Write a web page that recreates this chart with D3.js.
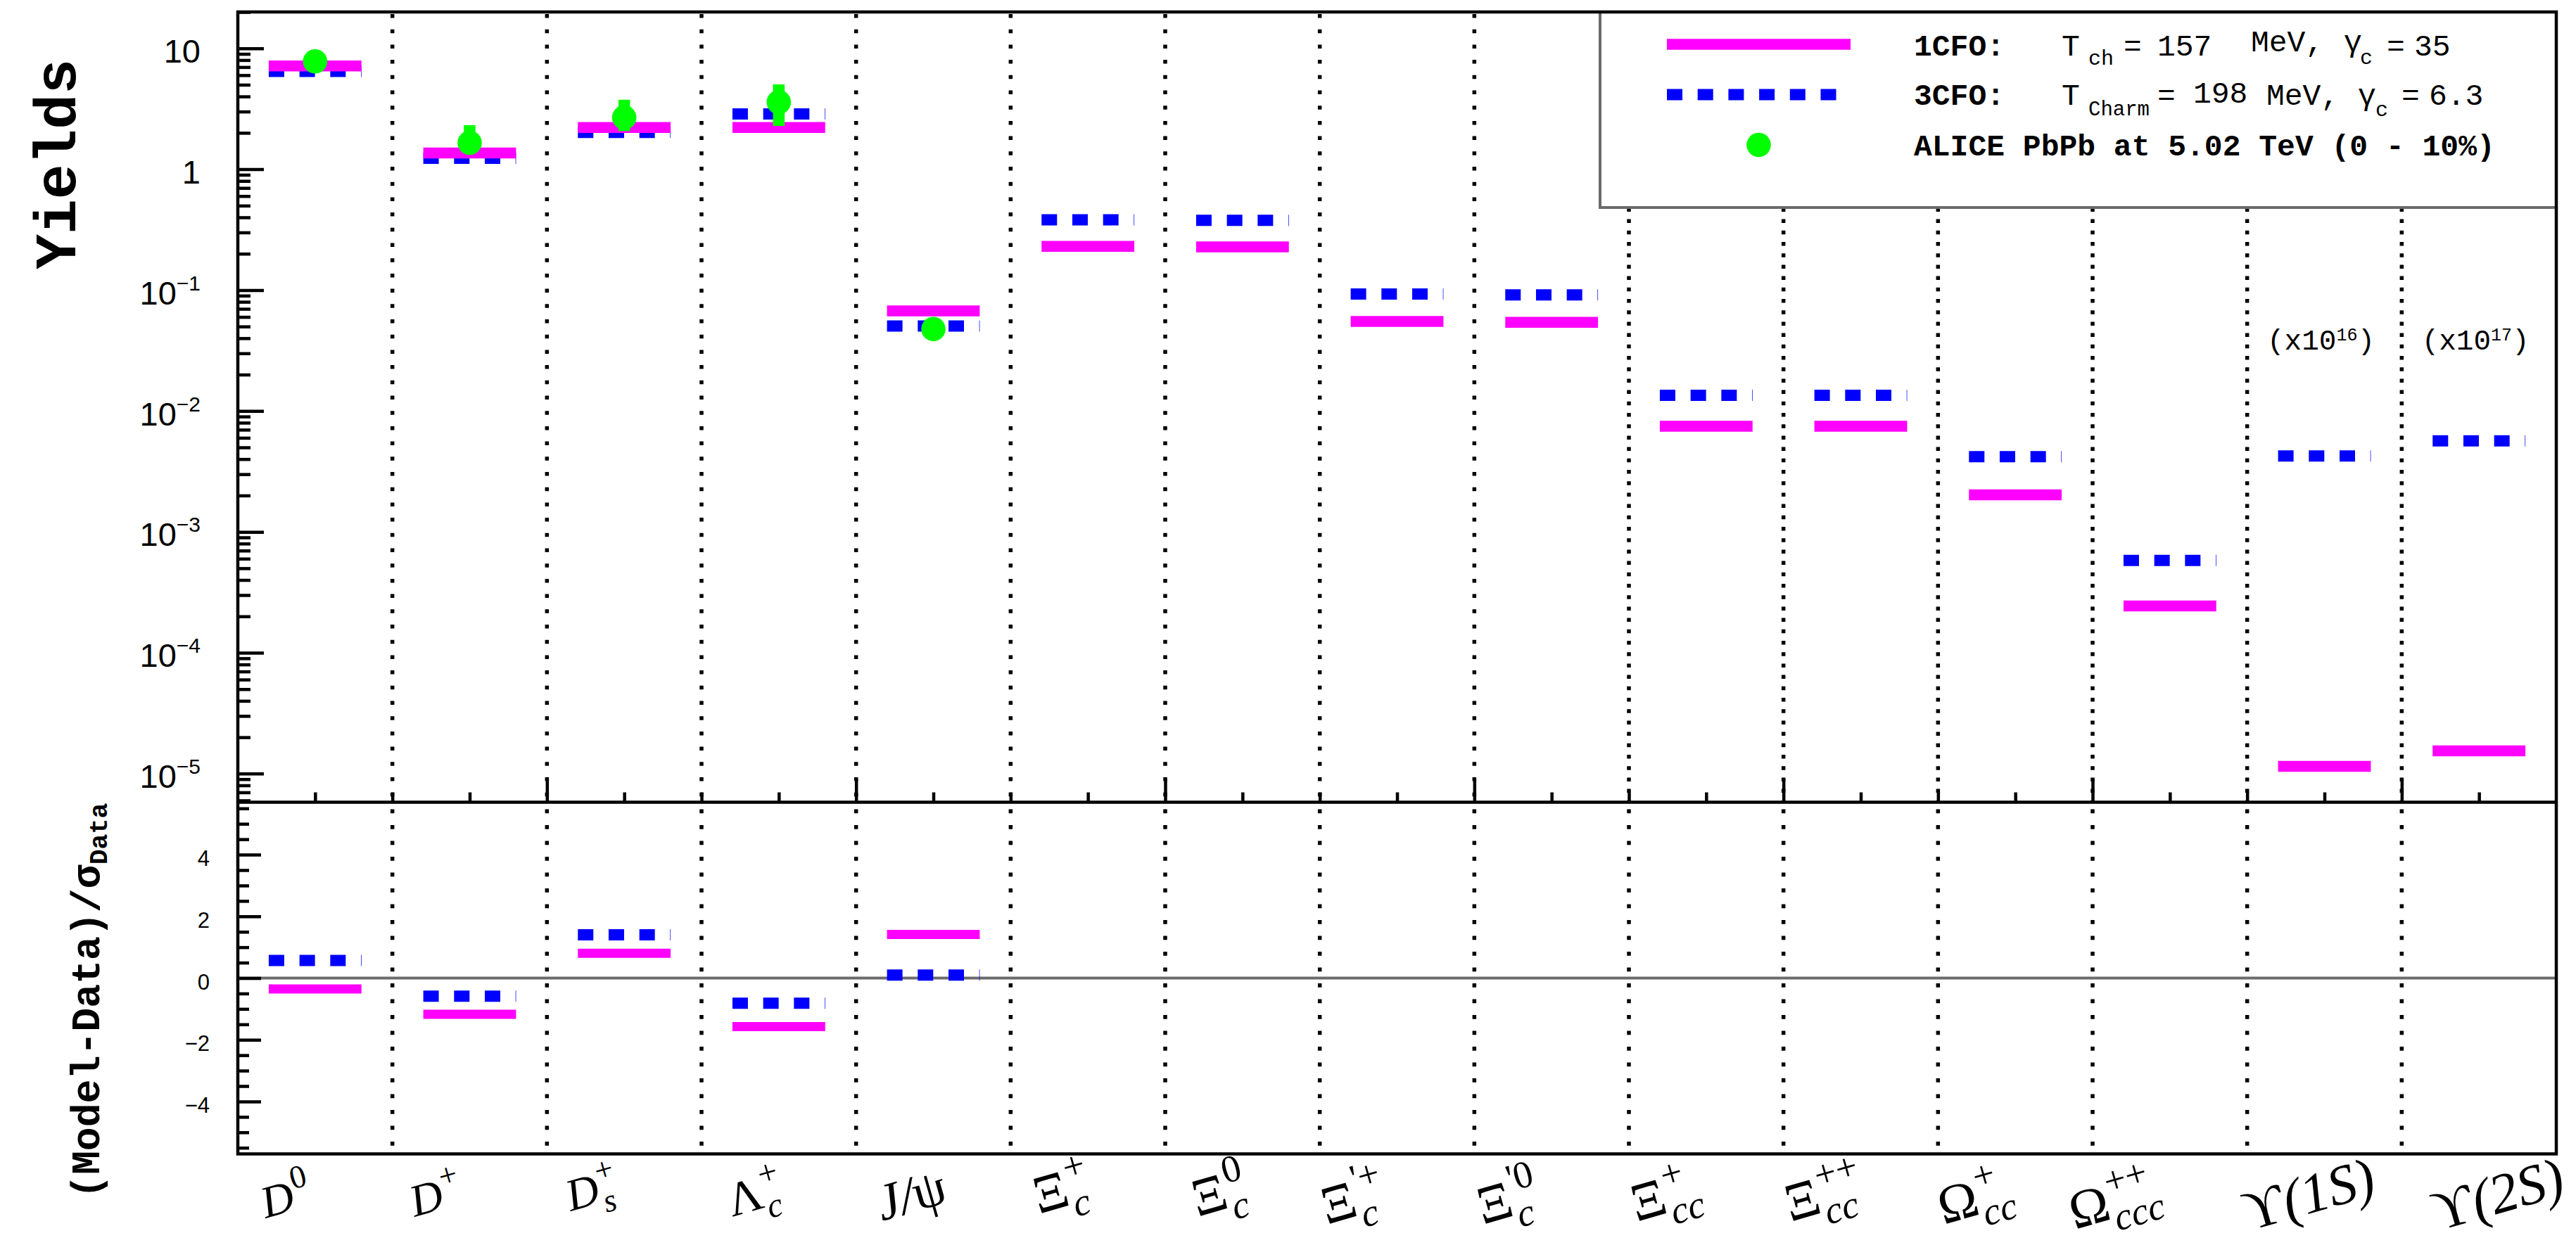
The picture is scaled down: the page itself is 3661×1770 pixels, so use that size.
<!DOCTYPE html>
<html>
<head>
<meta charset="utf-8">
<script src="https://cdn.jsdelivr.net/npm/d3@7"></script>
<style>
  html, body { margin: 0; padding: 0; background: #fff; }
  svg { display: block; }
</style>
</head>
<body>
<script>
// ---- data -----------------------------------------------------------
const particles = ["D0", "D+", "Ds+", "Λc+", "J/ψ", "Ξc+", "Ξc0", "Ξ'c+", "Ξ'c0",
                   "Ξcc+", "Ξcc++", "Ωcc+", "Ωccc++", "ϒ(1S)", "ϒ(2S)"];
const labelBase = ["D", "D", "D", "Λ", "J /ψ", "Ξ", "Ξ", "Ξ", "Ξ", "Ξ", "Ξ", "Ω", "Ω", "ϒ(1S)", "ϒ(2S)"];
const labelSub  = ["", "", "s", "c", "", "c", "c", "c", "c", "cc", "cc", "cc", "ccc", "", ""];
const labelSup  = ["0", "+", "+", "+", "", "+", "0", "'+", "'0", "+", "++", "+", "++", "", ""];

// 1CFO: T_ch = 157 MeV, gamma_c = 35
const yield1CFO = [7.16, 1.363, 2.211, 2.211, 0.0673, 0.2297, 0.2278, 0.0550, 0.0541,
                   0.00748, 0.00748, 0.002024, 0.000244, 1.15e-5, 1.545e-5];
// 3CFO: T_charm = 198 MeV, gamma_c = 6.3
const yield3CFO = [6.45, 1.232, 2.018, 2.867, 0.0504, 0.3817, 0.3781, 0.0927, 0.0913,
                   0.0135, 0.0135, 0.004191, 0.000581, 0.004242, 0.005657];

// ALICE Pb-Pb 5.02 TeV (0-10%)
const aliceIndex   = [0, 1, 2, 3, 4];
const aliceYield   = [7.8, 1.655, 2.677, 3.591, 0.0476];
const aliceErrLow  = [1.2, 0.3, 0.61, 1.31, 0.004];
const aliceErrHigh = [1.2, 0.66, 1.08, 1.44, 0.004];

// (Model - Data) / sigma_Data
const dev1CFO = [-0.356, -1.174, 0.803, -1.571, 1.411];
const dev3CFO = [0.57, -0.586, 1.402, -0.814, 0.096];

const yieldMajorTicks = [10, 1, 0.1, 0.01, 0.001, 1e-4, 1e-5];
const yieldTickLabels = [["10", ""], ["1", ""], ["10", "−1"], ["10", "−2"], ["10", "−3"], ["10", "−4"], ["10", "−5"]];
const devMajorTicks = [-4, -2, 0, 2, 4];
const devTickLabels = ["−4", "−2", "0", "2", "4"];

const scaleNoteIndex = [13, 14];
const scaleNoteExp = ["16", "17"];

// ---- layout ---------------------------------------------------------
const W = 3661, H = 1770;
const X0 = 338, X1 = 3633;
const TOP0 = 17, TOP1 = 1140.5, BOT1 = 1640.5;
const MAGENTA = "#ff00ff", BLUE = "#0000ff", GREEN = "#00ff00", GREY = "#6b6b6b";
const MONO = "'Liberation Mono', 'DejaVu Sans Mono', monospace";
const SANS = "'Liberation Sans', Arial, sans-serif";
const SERIF = "'Liberation Serif', 'DejaVu Serif', serif";

// category label placement (offset from bin centre, baseline y, font size)
const labelDx = [-70, -78, -76, -66, -73, -70, -64, -100, -98, -99, -100, -102, -135, -107, -58];
const labelY  = [1732, 1730, 1722, 1730, 1736, 1726, 1730, 1741, 1741, 1737, 1737, 1741, 1748, 1750, 1750];
const labelSize = [64, 64, 64, 68, 74, 76, 76, 76, 76, 76, 76, 76, 76, 80, 80];
const LABEL_ANGLE = 16;      // degrees; labels rise to the right
const SCRIPT_SCALE = 0.72;   // sub/superscript size relative to the label

const svg = d3.select("body").append("svg")
  .attr("width", W).attr("height", H)
  .attr("viewBox", `0 0 ${W} ${H}`);
svg.append("rect").attr("width", W).attr("height", H).attr("fill", "#fff");

const x = d3.scaleLinear().domain([0, particles.length]).range([X0, X1]);
const yTop = d3.scaleLog().domain([5.8e-6, 20]).range([TOP1, TOP0]);
const yBot = d3.scaleLinear().domain([-5.7, 5.7]).range([BOT1, TOP1]);

// ---- bin separators ---------------------------------------------------
const seps = d3.range(1, particles.length);
svg.append("g").selectAll("line").data(seps).join("line")
  .attr("x1", d => x(d)).attr("x2", d => x(d))
  .attr("y1", TOP0 + 3).attr("y2", TOP1)
  .attr("stroke", "#000").attr("stroke-width", 5.5)
  .attr("stroke-dasharray", d => d <= 8 ? "5.5 16.2" : "5.5 10.7");
svg.append("g").selectAll("line").data(seps).join("line")
  .attr("x1", d => x(d)).attr("x2", d => x(d))
  .attr("y1", TOP1 + 10).attr("y2", BOT1)
  .attr("stroke", "#000").attr("stroke-width", 5.5)
  .attr("stroke-dasharray", "5.7 16.8");

// zero reference in the deviation panel
svg.append("line")
  .attr("x1", X0).attr("x2", X1).attr("y1", yBot(0)).attr("y2", yBot(0))
  .attr("stroke", GREY).attr("stroke-width", 4);

// ---- model yields -----------------------------------------------------
const barL = i => x(i + 0.2), barR = i => x(i + 0.8);
svg.append("g").selectAll("line").data(yield3CFO).join("line")
  .attr("x1", (d, i) => barL(i)).attr("x2", (d, i) => barR(i))
  .attr("y1", d => yTop(d)).attr("y2", d => yTop(d))
  .attr("stroke", BLUE).attr("stroke-width", 16).attr("stroke-dasharray", "22 21.7");
svg.append("g").selectAll("line").data(yield1CFO).join("line")
  .attr("x1", (d, i) => barL(i)).attr("x2", (d, i) => barR(i))
  .attr("y1", d => yTop(d)).attr("y2", d => yTop(d))
  .attr("stroke", MAGENTA).attr("stroke-width", 15.5);

// ALICE points with error bars
const alice = aliceIndex.map((k, j) => ({ k, v: aliceYield[j], lo: aliceErrLow[j], hi: aliceErrHigh[j] }));
svg.append("g").selectAll("line").data(alice).join("line")
  .attr("x1", d => x(d.k + 0.5)).attr("x2", d => x(d.k + 0.5))
  .attr("y1", d => yTop(d.v - d.lo)).attr("y2", d => yTop(d.v + d.hi))
  .attr("stroke", GREEN).attr("stroke-width", 16.5);
svg.append("g").selectAll("circle").data(alice).join("circle")
  .attr("cx", d => x(d.k + 0.5)).attr("cy", d => yTop(d.v)).attr("r", 17.3)
  .attr("fill", GREEN);

// ---- deviations -------------------------------------------------------
svg.append("g").selectAll("line").data(dev3CFO).join("line")
  .attr("x1", (d, i) => barL(i)).attr("x2", (d, i) => barR(i))
  .attr("y1", d => yBot(d)).attr("y2", d => yBot(d))
  .attr("stroke", BLUE).attr("stroke-width", 16).attr("stroke-dasharray", "22 21.7");
svg.append("g").selectAll("line").data(dev1CFO).join("line")
  .attr("x1", (d, i) => barL(i)).attr("x2", (d, i) => barR(i))
  .attr("y1", d => yBot(d)).attr("y2", d => yBot(d))
  .attr("stroke", MAGENTA).attr("stroke-width", 13);

// scale-factor notes above the bottomonium bins
scaleNoteIndex.forEach((k, j) => {
  const t = svg.append("text")
    .attr("x", x(k + 0.5) - 5).attr("y", 497)
    .attr("text-anchor", "middle")
    .attr("font-family", MONO).attr("font-size", 41).attr("fill", "#000");
  t.append("tspan").text("(x10");
  t.append("tspan").attr("font-size", 25).attr("dy", -13).text(scaleNoteExp[j]);
  t.append("tspan").attr("dy", 13).text(")");
});

// ---- legend -----------------------------------------------------------
const LX = 2274, LB = 295;
svg.append("rect").attr("x", LX).attr("y", TOP0).attr("width", X1 - LX).attr("height", LB - TOP0).attr("fill", "#fff");
svg.append("path").attr("d", `M${LX},${TOP0} V${LB} H${X1}`)
  .attr("fill", "none").attr("stroke", GREY).attr("stroke-width", 4);
svg.append("line").attr("x1", 2369).attr("x2", 2630).attr("y1", 63).attr("y2", 63)
  .attr("stroke", MAGENTA).attr("stroke-width", 15.5);
svg.append("line").attr("x1", 2369).attr("x2", 2630).attr("y1", 134.5).attr("y2", 134.5)
  .attr("stroke", BLUE).attr("stroke-width", 16).attr("stroke-dasharray", "22 21.7");
svg.append("circle").attr("cx", 2499.5).attr("cy", 206).attr("r", 17.3).attr("fill", GREEN);

function legendText(xp, yp, str, size, bold) {
  svg.append("text").attr("x", xp).attr("y", yp)
    .attr("font-family", MONO).attr("font-size", size)
    .attr("font-weight", bold ? "bold" : "normal").attr("fill", "#000").text(str);
}
legendText(2720, 79, "1CFO:", 43, true);
legendText(2930, 79, "T", 43);
legendText(2968, 92, "ch", 30);
legendText(3018, 79, "=", 43);
legendText(3066, 79, "157", 43);
legendText(3199, 73, "MeV,", 43);
legendText(3331, 73, "γ", 43);
legendText(3354, 91, "c", 30);
legendText(3392, 79, "=", 43);
legendText(3431, 79, "35", 43);

legendText(2720, 148.5, "3CFO:", 43, true);
legendText(2930, 148.5, "T", 43);
legendText(2968, 163.5, "Charm", 29);
legendText(3066, 148.5, "=", 43);
legendText(3117, 145.5, "198", 43);
legendText(3221, 148.5, "MeV,", 43);
legendText(3351, 148.5, "γ", 43);
legendText(3376, 165, "c", 30);
legendText(3413, 148.5, "=", 43);
legendText(3452, 148.5, "6.3", 43);

legendText(2720, 221, "ALICE PbPb at 5.02 TeV (0 - 10%)", 43, true);

// ---- axes -------------------------------------------------------------
function styleAxis(g) {
  g.select(".domain").remove();
  g.selectAll(".tick line").attr("stroke", "#000").attr("stroke-width", 4.5);
}
// log y axis, top panel
const topMinor = [];
for (let e = -6; e <= 1; e++) for (let m = 2; m <= 9; m++) {
  const v = m * Math.pow(10, e);
  if (v >= 5.8e-6 && v <= 20) topMinor.push(v);
}
svg.append("g").attr("transform", `translate(${X0},0)`)
  .call(d3.axisLeft(yTop).tickValues(topMinor).tickSize(-18).tickFormat(""))
  .call(styleAxis);
const topAxis = svg.append("g").attr("transform", `translate(${X0},0)`)
  .call(d3.axisLeft(yTop).tickValues(yieldMajorTicks).tickSize(-37).tickPadding(53).tickFormat(() => ""))
  .call(styleAxis);
topAxis.selectAll(".tick text").each(function (d, i) {
  const t = d3.select(this).attr("font-family", SANS).attr("font-size", 47)
    .attr("fill", "#000").attr("dy", "0.42em");
  t.text(null);
  t.append("tspan").text(yieldTickLabels[i][0]);
  if (yieldTickLabels[i][1]) t.append("tspan").attr("font-size", 30).attr("dy", -20).text(yieldTickLabels[i][1]);
});

// linear y axis, bottom panel
svg.append("g").attr("transform", `translate(${X0},0)`)
  .call(d3.axisLeft(yBot).tickValues(d3.range(-5.5, 5.51, 0.5).filter(v => v % 2 !== 0)).tickSize(-16).tickFormat(""))
  .call(styleAxis);
svg.append("g").attr("transform", `translate(${X0},0)`)
  .call(d3.axisLeft(yBot).tickValues(devMajorTicks).tickSize(-33).tickPadding(40)
    .tickFormat((d, i) => devTickLabels[i]))
  .call(styleAxis)
  .call(g => g.selectAll(".tick text").attr("font-family", SANS).attr("font-size", 31)
    .attr("fill", "#000").attr("dy", "0.5em"));

// x ticks along the bottom of the yield panel
svg.append("g").attr("transform", `translate(0,${TOP1})`)
  .call(d3.axisBottom(x).tickValues(d3.range(0.5, 15, 1).concat(d3.range(1, 15, 2))).tickSize(-14).tickFormat(""))
  .call(styleAxis);
svg.append("g").attr("transform", `translate(0,${TOP1})`)
  .call(d3.axisBottom(x).tickValues(d3.range(2, 15, 2)).tickSize(-33).tickFormat(""))
  .call(styleAxis);

// frames
svg.append("path")
  .attr("d", `M${X0},${TOP1} V${TOP0} H${X1} V${BOT1} H${X0} V${TOP1} H${X1}`)
  .attr("fill", "none").attr("stroke", "#000").attr("stroke-width", 4.5);

// ---- axis titles ------------------------------------------------------
svg.append("text")
  .attr("transform", "translate(107,84) rotate(-90)")
  .attr("text-anchor", "end")
  .attr("font-family", MONO).attr("font-weight", "bold").attr("font-size", 83)
  .attr("fill", "#000").text("Yields");

const devTitle = svg.append("text")
  .attr("transform", "translate(141,1704) rotate(-90)")
  .attr("font-family", MONO).attr("font-weight", "bold").attr("font-size", 56.5).attr("fill", "#000");
devTitle.append("tspan").text("(Model-Data)/σ");
devTitle.append("tspan").attr("font-size", 36.5).attr("dy", 11).text("Data");

// ---- category labels: glyphs laid out along a tilted baseline ------------
const th = LABEL_ANGLE * Math.PI / 180, ct = Math.cos(th), st = Math.sin(th);
const isGreek = ch => /[\u0370-\u03ff]/.test(ch);
const meter = svg.append("text").attr("font-family", SERIF).attr("x", -1000).attr("y", -1000);
function advance(ch, size, italic) {
  meter.attr("font-size", size).attr("font-style", italic ? "italic" : "normal").text(ch);
  return meter.node().getComputedTextLength();
}
const labelLayer = svg.append("g").attr("class", "category-labels")
  .attr("font-family", SERIF).attr("fill", "#000");
particles.forEach((p, i) => {
  const F = labelSize[i], fs = F * SCRIPT_SCALE;
  const ax = x(i + 0.5) + labelDx[i], ay = labelY[i];
  const glyphs = [];
  let u = 0;
  for (const ch of labelBase[i]) {
    const it = !isGreek(ch);
    glyphs.push({ ch, u, v: 0, size: F, it });
    u += advance(ch, F, it);
  }
  const u0 = u + 2;
  let us = u0;
  for (const ch of labelSub[i]) {
    glyphs.push({ ch, u: us, v: 0.25 * F, size: fs, it: true });
    us += advance(ch, fs, true);
  }
  let up = u0;
  for (const ch of labelSup[i]) {
    glyphs.push({ ch, u: up, v: -0.45 * F, size: fs, it: false });
    up += advance(ch, fs, false);
  }
  glyphs.filter(g => g.ch !== " ").forEach(g => {
    const gx = ax + g.u * ct + g.v * st;
    const gy = ay - g.u * st + g.v * ct;
    labelLayer.append("text")
      .attr("transform", `translate(${gx.toFixed(2)},${gy.toFixed(2)}) rotate(${-LABEL_ANGLE})`)
      .attr("font-size", g.size)
      .attr("font-style", g.it ? "italic" : "normal")
      .text(g.ch);
  });
});
meter.remove();
</script>
</body>
</html>
